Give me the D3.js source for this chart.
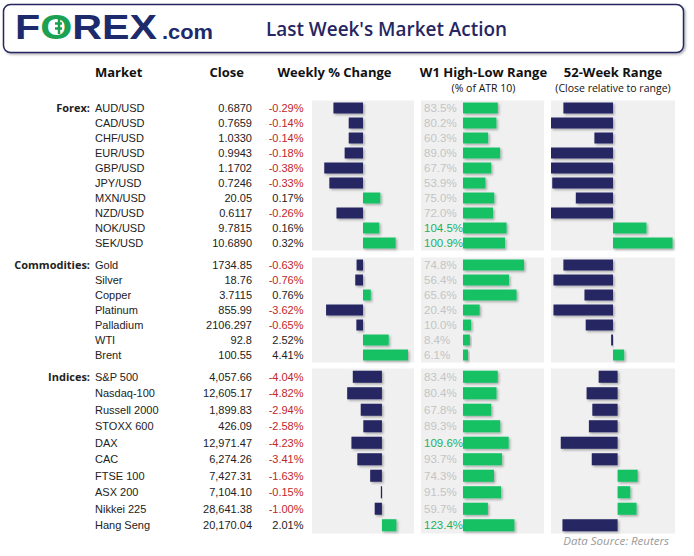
<!DOCTYPE html>
<html>
<head>
<meta charset="utf-8">
<script src="https://cdn.jsdelivr.net/npm/d3@7"></script>
<style>
  body { margin: 0; background: #fff; }
  svg { display: block; }
</style>
</head>
<body>
<svg id="chart"></svg>
<script>
// chart size
let width = 694
let height = 556

// ---- data ----
const forexNames = ['AUD/USD', 'CAD/USD', 'CHF/USD', 'EUR/USD', 'GBP/USD', 'JPY/USD', 'MXN/USD', 'NZD/USD', 'NOK/USD', 'SEK/USD']
const forexClose = ['0.6870', '0.7659', '1.0330', '0.9943', '1.1702', '0.7246', '20.05', '0.6117', '9.7815', '10.6890']
const forexChange = [-0.29, -0.14, -0.14, -0.18, -0.38, -0.33, 0.17, -0.26, 0.16, 0.32]
const forexRange = [83.5, 80.2, 60.3, 89.0, 67.7, 53.9, 75.0, 72.0, 104.5, 100.9]
const forex52 = [-40, -50, -15, -50, -50, -49, -30, -50, 27, 48]

const commNames = ['Gold', 'Silver', 'Copper', 'Platinum', 'Palladium', 'WTI', 'Brent']
const commClose = ['1734.85', '18.76', '3.7115', '855.99', '2106.297', '92.8', '100.55']
const commChange = [-0.63, -0.76, 0.76, -3.62, -0.65, 2.52, 4.41]
const commRange = [74.8, 56.4, 65.6, 20.4, 10.0, 8.4, 6.1]
const comm52 = [-40, -48, -23, -48, -22, -1.5, 9]

const indNames = ['S&P 500', 'Nasdaq-100', 'Russell 2000', 'STOXX 600', 'DAX', 'CAC', 'FTSE 100', 'ASX 200', 'Nikkei 225', 'Hang Seng']
const indClose = ['4,057.66', '12,605.17', '1,899.83', '426.09', '12,971.47', '6,274.26', '7,427.31', '7,104.10', '28,641.38', '20,170.04']
const indChange = [-4.04, -4.82, -2.94, -2.58, -4.23, -3.41, -1.63, -0.15, -1.00, 2.01]
const indRange = [83.4, 80.4, 67.8, 89.3, 109.6, 93.7, 74.3, 91.5, 59.7, 123.4]
const ind52 = [-16.5, -27, -22, -25, -49.5, -22.5, 17.5, 11, 16.5, -48]

const headers = ['Market', 'Close', 'Weekly % Change', 'W1 High-Low Range', '52-Week Range']
const subHeaders = ['(% of ATR 10)', '(Close relative to range)']

// colours
const navy = '#262662'
const green = '#13c164'
const red = '#c0262c'
const panel = '#f0f0f0'

// groups (layout + per group axis domains)
let groups = [
  { label: 'Forex:', names: forexNames, close: forexClose, change: forexChange, range: forexRange, w52: forex52,
    top: 100.5, bottom: 250.5, chDomain: [-0.5, 0.5], rgDomain: [0, 192], wkDomain: [-50, 50] },
  { label: 'Commodities:', names: commNames, close: commClose, change: commChange, range: commRange, w52: comm52,
    top: 257.5, bottom: 362.5, chDomain: [-5, 5], rgDomain: [0, 98], wkDomain: [-50, 50] },
  { label: 'Indices:', names: indNames, close: indClose, change: indChange, range: indRange, w52: ind52,
    top: 368.5, bottom: 533.5, chDomain: [-9.7, 4.45], rgDomain: [0, 192], wkDomain: [-58, 50] }
]

// column x positions
let chX = [312, 414]
let rgX = [463, 543]
let rgPanel = [421, 544]
let wkX = [551, 675]

let svg = d3.select('#chart')
  .attr('width', width)
  .attr('height', height)

let defs = svg.append('defs')
defs.append('filter').attr('id', 'sh')
  .attr('x', '-20%').attr('y', '-30%').attr('width', '150%').attr('height', '180%')
  .append('feDropShadow')
  .attr('dx', 1.5).attr('dy', 1.5).attr('stdDeviation', 1)
  .attr('flood-color', '#000').attr('flood-opacity', 0.3)

// ---- header box ----
let drawHeader = () => {
  svg.append('rect')
    .attr('x', 3.5).attr('y', 4.5)
    .attr('width', 680).attr('height', 48)
    .attr('rx', 7)
    .attr('fill', '#fff')
    .attr('stroke', navy)
    .attr('stroke-width', 1.5)
    .attr('filter', 'url(#sh)')

  let logo = svg.append('text')
    .attr('x', 15).attr('y', 38.5)
    .attr('font-family', 'Liberation Sans, Arial, sans-serif')
    .attr('font-weight', 'bold')
    .attr('font-size', 35)
    .attr('textLength', 142)
    .attr('lengthAdjust', 'spacingAndGlyphs')
    .attr('fill', '#1d2a6b')
  logo.append('tspan').text('F')
  logo.append('tspan').attr('fill', '#1aa152').text('O')
  logo.append('tspan').text('REX')

  // little currency mark inside the O
  svg.append('path')
    .attr('d', 'M59,18V34M55,23.5H62M55,28.5H62')
    .attr('stroke', '#1aa152')
    .attr('stroke-width', 2.5)
    .attr('fill', 'none')

  svg.append('text')
    .attr('x', 162).attr('y', 38.5)
    .attr('font-family', 'Liberation Sans, Arial, sans-serif')
    .attr('font-weight', 'bold')
    .attr('font-size', 21)
    .attr('textLength', 51)
    .attr('lengthAdjust', 'spacingAndGlyphs')
    .attr('fill', '#1d2a6b')
    .text('.com')

  svg.append('text')
    .attr('x', 266).attr('y', 35.5)
    .attr('font-family', 'Open Sans, sans-serif')
    .attr('font-weight', 600)
    .attr('font-size', 20.5)
    .attr('textLength', 241)
    .attr('lengthAdjust', 'spacingAndGlyphs')
    .attr('fill', navy)
    .text("Last Week's Market Action")
}

// ---- column headers ----
let drawColumnHeads = () => {
  let hx = [95, 244, 334.5, 483.5, 613]
  let anchors = ['start', 'end', 'middle', 'middle', 'middle']
  svg.selectAll('.colhead')
    .data(headers)
    .enter()
    .append('text')
    .attr('class', 'colhead')
    .attr('x', (d, i) => hx[i])
    .attr('y', 77)
    .attr('text-anchor', (d, i) => anchors[i])
    .attr('font-family', 'Open Sans, sans-serif')
    .attr('font-weight', 'bold')
    .attr('font-size', 13)
    .attr('fill', '#111')
    .text(d => d)

  svg.selectAll('.subhead')
    .data(subHeaders)
    .enter()
    .append('text')
    .attr('class', 'subhead')
    .attr('x', (d, i) => [483.5, 613][i])
    .attr('y', 92)
    .attr('text-anchor', 'middle')
    .attr('font-family', 'Open Sans, sans-serif')
    .attr('font-size', 10.5)
    .attr('fill', '#111')
    .text(d => d)
}

// ---- one block of rows ----
let drawGroup = (g) => {
  let rows = g.names.map((n, i) => ({
    name: n, close: g.close[i], change: g.change[i], range: g.range[i], w52: g.w52[i]
  }))

  let yScale = d3.scaleBand()
    .domain(g.names)
    .range([g.top, g.bottom])
    .paddingInner(0.27)
    .paddingOuter(0.135)

  let chScale = d3.scaleLinear().domain(g.chDomain).range(chX)
  let rgScale = d3.scaleLinear().domain(g.rgDomain).range(rgX)
  let wkScale = d3.scaleLinear().domain(g.wkDomain).range(wkX)

  let mid = d => yScale(d.name) + yScale.bandwidth() / 2
  let block = svg.append('g')

  // grey panels
  let panels = [chX, rgPanel, wkX]
  block.selectAll('.panel')
    .data(panels)
    .enter()
    .append('rect')
    .attr('x', d => d[0])
    .attr('width', d => d[1] - d[0])
    .attr('y', g.top)
    .attr('height', g.bottom - g.top)
    .attr('fill', panel)

  // group label
  block.append('text')
    .attr('x', 90)
    .attr('y', mid(rows[0]))
    .attr('dy', '0.35em')
    .attr('text-anchor', 'end')
    .attr('font-family', 'Open Sans, sans-serif')
    .attr('font-weight', 'bold')
    .attr('font-size', 11)
    .attr('fill', '#222')
    .text(g.label)

  let txt = (sel) => sel
    .attr('y', mid)
    .attr('dy', '0.35em')
    .attr('font-family', 'Liberation Sans, Arial, sans-serif')
    .attr('font-size', 11)

  block.selectAll('.name').data(rows).enter().append('text')
    .call(txt)
    .attr('x', 95)
    .attr('fill', '#222')
    .text(d => d.name)

  block.selectAll('.close').data(rows).enter().append('text')
    .call(txt)
    .attr('x', 252)
    .attr('text-anchor', 'end')
    .attr('fill', '#222')
    .text(d => d.close)

  block.selectAll('.chg').data(rows).enter().append('text')
    .call(txt)
    .attr('x', 303.5)
    .attr('text-anchor', 'end')
    .attr('fill', d => d.change < 0 ? red : '#222')
    .text(d => d.change.toFixed(2) + '%')

  // weekly % change bars
  block.selectAll('.chbar').data(rows).enter().append('rect')
    .attr('x', d => Math.min(chScale(0), chScale(d.change)))
    .attr('width', d => Math.max(1.2, Math.abs(chScale(d.change) - chScale(0))))
    .attr('y', d => yScale(d.name))
    .attr('height', yScale.bandwidth())
    .attr('fill', d => d.change < 0 ? navy : green)
    .attr('filter', 'url(#sh)')

  // W1 range labels + bars
  block.selectAll('.rglab').data(rows).enter().append('text')
    .call(txt)
    .attr('x', 424)
    .attr('fill', d => d.range > 100 ? '#20b060' : '#c4c4c4')
    .attr('font-size', 11.5)
    .text(d => d.range.toFixed(1) + '%')

  block.selectAll('.rgbar').data(rows).enter().append('rect')
    .attr('x', rgScale(0))
    .attr('width', d => rgScale(d.range) - rgScale(0))
    .attr('y', d => yScale(d.name))
    .attr('height', yScale.bandwidth())
    .attr('fill', green)
    .attr('filter', 'url(#sh)')

  // 52-week bars
  block.selectAll('.wkbar').data(rows).enter().append('rect')
    .attr('x', d => Math.min(wkScale(0), wkScale(d.w52)))
    .attr('width', d => Math.max(1.2, Math.abs(wkScale(d.w52) - wkScale(0))))
    .attr('y', d => yScale(d.name))
    .attr('height', yScale.bandwidth())
    .attr('fill', d => d.w52 < 0 ? navy : green)
    .attr('filter', 'url(#sh)')
}

let drawSource = () => {
  svg.append('text')
    .attr('x', 669).attr('y', 545)
    .attr('text-anchor', 'end')
    .attr('font-family', 'Open Sans, sans-serif')
    .attr('font-style', 'italic')
    .attr('font-size', 11.5)
    .attr('fill', '#999')
    .text('Data Source: Reuters')
}

// MAIN
drawHeader()
drawColumnHeads()
groups.forEach(drawGroup)
drawSource()
</script>
</body>
</html>
